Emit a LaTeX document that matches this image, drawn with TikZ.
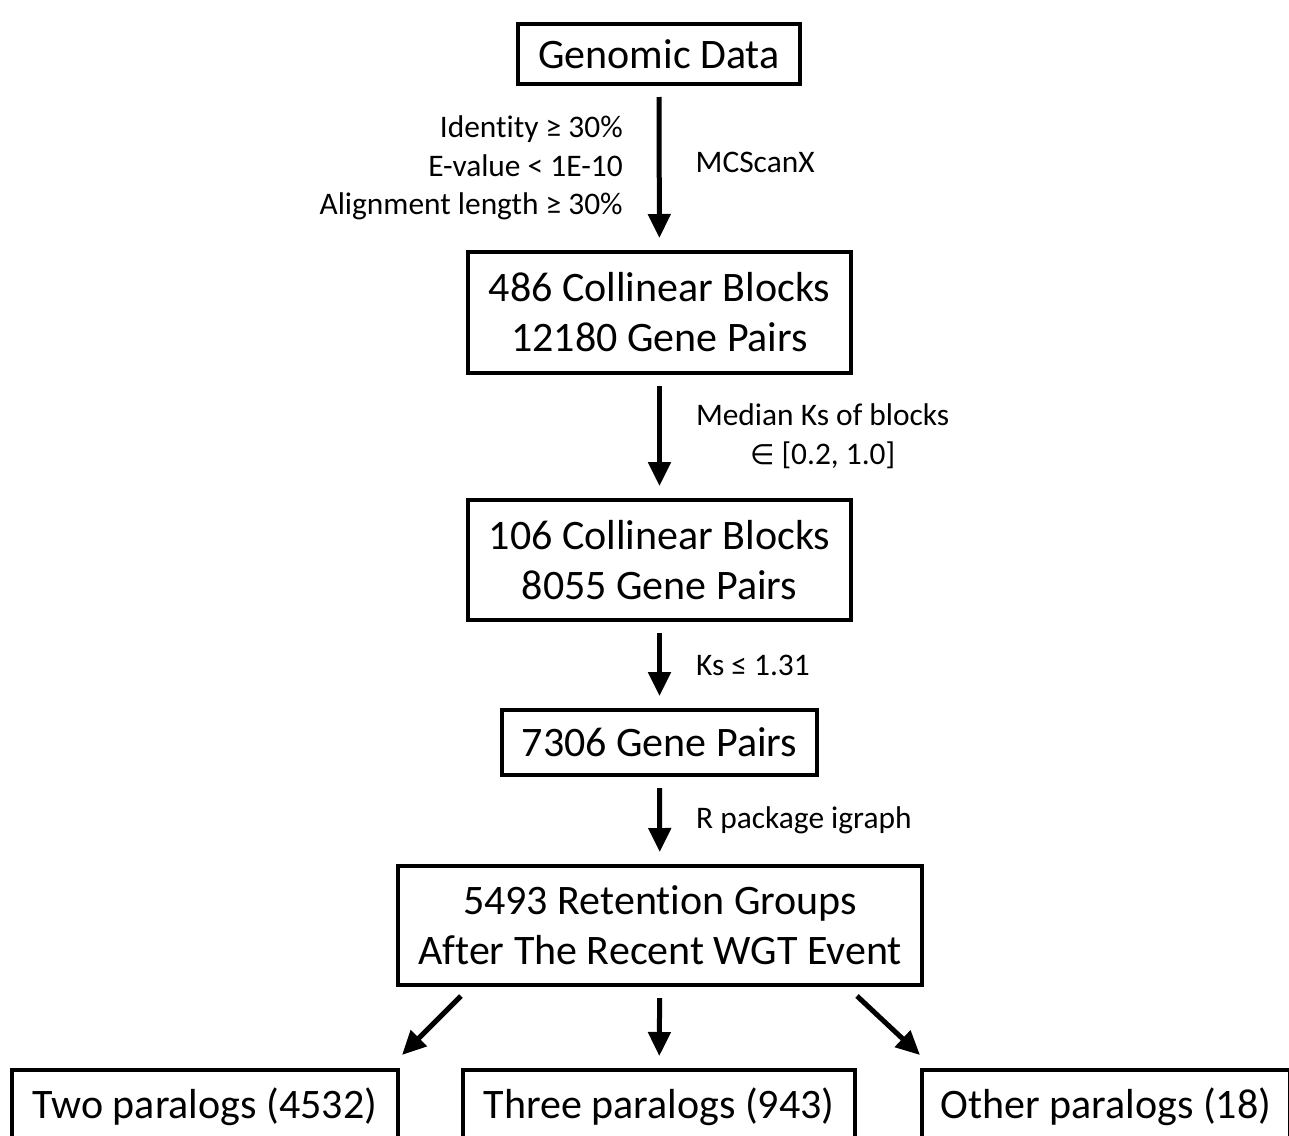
\documentclass[tikz,border=0pt]{standalone}
\usepackage{fontspec}
\setmainfont[RawFeature={-liga;-clig;-calt;-dlig}]{Carlito}
\newfontfamily\symfont{DejaVu Sans}
\usetikzlibrary{arrows.meta,calc}
\tikzset{
  figure/.style={x=0.5pt,y=-0.5pt,font=\fontsize{21}{25}\selectfont,text=black},
  box/.style={draw=black,line width=2pt,inner sep=0pt,align=center},
  flow/.style={-{Triangle[length=12pt,width=11pt]},line width=2.5pt,shorten <=5.5pt,shorten >=6pt},
  note/.style={font=\fontsize{15.7}{19.3}\selectfont,inner sep=0pt},
}
\begin{document}
\begin{tikzpicture}[figure]
  \useasboundingbox (0,0) rectangle (1289,1135);

  \node[box,minimum width=141pt,minimum height=30pt] (genome) at (659,54) {Genomic Data};
  \node[box,minimum width=191.5pt,minimum height=60.5pt] (blocksA) at (659.5,312.5)
    {486 Collinear Blocks\\12180 Gene Pairs};
  \node[box,minimum width=191.5pt,minimum height=60pt] (blocksB) at (659.5,560)
    {106 Collinear Blocks\\8055 Gene Pairs};
  \node[box,minimum width=157.5pt,minimum height=32.5pt] (pairs) at (659.5,742.5) {7306 Gene Pairs};
  \node[box,minimum width=262pt,minimum height=59.5pt] (groups) at (660,925.5)
    {5493 Retention Groups\\After The Recent WGT Event};

  % bottom row runs past the page edge
  \node[box,minimum width=193pt,minimum height=37pt] (two) at (205,1107) {Two paralogs (4532)};
  \node[box,minimum width=196pt,minimum height=37pt] (three) at (659,1107) {Three paralogs (943)};
  \node[box,minimum width=184pt,minimum height=37pt] (other) at (1106,1107) {Other paralogs (18)};

  \draw[flow] (genome) -- (blocksA)
    node[note,midway,left=17pt,align=right] {Identity ≥ 30\%\\E-value < 1E-10\\Alignment length ≥ 30\%}
    node[note,midway,right=17pt,yshift=3pt] {MCScanX};
  \draw[flow] (blocksA) -- (blocksB)
    node[note,midway,right=17pt,align=center] {Median Ks of blocks\\{\symfont\fontsize{14}{19.3}\selectfont ∈} [0.2, 1.0]};
  \draw[flow] (blocksB) -- (pairs)
    node[note,midway,right=17pt] {Ks ≤ 1.31};
  \draw[flow] (pairs) -- (groups)
    node[note,midway,right=17pt] {R package igraph};

  \draw[flow,shorten <=0pt,shorten >=0pt] ($(groups.south -| three.west)+(0,9)$) -- ($(two.north east)+(2,-13)$);
  \draw[flow] (groups) -- (three);
  \draw[flow,shorten <=0pt,shorten >=0pt] ($(groups.south -| three.east)+(0,9)$) -- ($(other.north west)+(0,-13)$);
\end{tikzpicture}
\end{document}
